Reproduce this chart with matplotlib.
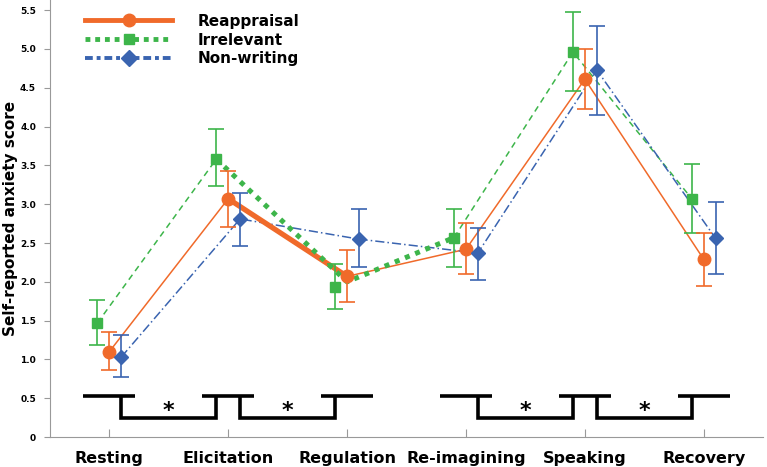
import matplotlib.pyplot as plt
from matplotlib.lines import Line2D
import numpy as np

phases = ["Resting", "Elicitation", "Regulation", "Re-imagining", "Speaking", "Recovery"]

reapp_mean = [1.10, 3.07, 2.07, 2.42, 4.61, 2.29]
reapp_lo = [0.86, 2.71, 1.74, 2.10, 4.23, 1.95]
reapp_hi = [1.36, 3.43, 2.41, 2.76, 5.00, 2.63]

irrel_mean = [1.47, 3.58, 1.93, 2.57, 4.96, 3.07]
irrel_lo = [1.19, 3.23, 1.65, 2.19, 4.46, 2.63]
irrel_hi = [1.76, 3.97, 2.23, 2.94, 5.48, 3.52]

nonw_mean = [1.03, 2.81, 2.55, 2.37, 4.73, 2.56]
nonw_lo = [0.77, 2.46, 2.19, 2.02, 4.15, 2.10]
nonw_hi = [1.31, 3.15, 2.94, 2.69, 5.30, 3.03]

# highlighted (thick) segments drawn over the plain lines
thick_reapp_x = [1, 2]
thick_reapp_y = [3.07, 2.07]
thick_irrel_x = [0.9, 2, 2.9]
thick_irrel_y = [3.58, 2.0, 2.57]

# significant pairwise comparisons (phase index pairs)
comparisons = [(0, 1), (1, 2), (3, 4), (4, 5)]
yticks = [0, 0.5, 1.0, 1.5, 2.0, 2.5, 3.0, 3.5, 4.0, 4.5, 5.0, 5.5]

ORANGE = "#F06A2A"
GREEN = "#3DB54A"
BLUE = "#3A64B0"

fig = plt.figure(figsize=(7.67, 4.67), dpi=100)
ax = fig.add_axes([0.065, 0.064, 0.93, 0.936])

x = np.arange(len(phases))
off = 0.1


def draw(xs, mean, lo, hi, color, ls, marker, ms, segs):
    mean = np.array(mean)
    yerr = [mean - np.array(lo), np.array(hi) - mean]
    ax.errorbar(xs, mean, yerr=yerr, fmt="none", ecolor=color, elinewidth=1.2,
                capsize=6, capthick=1.2, zorder=3)
    for a, b in segs:
        ax.plot(xs[a:b + 1], mean[a:b + 1], color=color, ls=ls, lw=1.1, zorder=2)
    ax.plot(xs, mean, ls="none", marker=marker, color=color, ms=ms, zorder=4)


draw(x - off, irrel_mean, irrel_lo, irrel_hi, GREEN, (0, (4, 3)), "s", 7,
     [(0, 1), (3, 5)])
draw(x, reapp_mean, reapp_lo, reapp_hi, ORANGE, "-", "o", 9,
     [(0, 1), (2, 5)])
draw(x + off, nonw_mean, nonw_lo, nonw_hi, BLUE, (0, (6, 2, 1, 2)), "D", 7.5,
     [(0, 5)])

ax.plot(thick_reapp_x, thick_reapp_y, color=ORANGE, lw=3.8, solid_capstyle="butt", zorder=2)
ax.plot(thick_irrel_x, thick_irrel_y, color=GREEN, lw=3.6, ls=(0, (1, 1.2)), zorder=2)

# significance brackets
top, bot, hw = 0.53, 0.24, 0.22
for i in sorted({p for c in comparisons for p in c}):
    ax.plot([i - hw, i + hw], [top, top], color="black", lw=2.6, solid_capstyle="butt")
for a, b in comparisons:
    ax.plot([a + 0.1, a + 0.1, b - 0.1, b - 0.1], [top, bot, bot, top], color="black",
            lw=2.6, solid_joinstyle="miter", solid_capstyle="butt")
    ax.text((a + b) / 2, 0.34, "*", ha="center", va="center", fontsize=16,
            fontweight="bold")

ax.set_xlim(-0.5, 5.5)
ax.set_ylim(0, 5.63)
ax.set_xticks(x)
ax.set_xticklabels(phases, fontsize=11.5, fontweight="bold")
ax.set_yticks(yticks)
ax.set_yticklabels(["0"] + ["%.1f" % v for v in yticks[1:]], fontsize=6.5, fontweight="bold")
ax.tick_params(axis="x", direction="in", length=6, color="#999999", pad=10)
ax.tick_params(axis="y", direction="out", length=4, color="#999999", pad=6)
for s in ["top", "right"]:
    ax.spines[s].set_visible(False)
for s in ["left", "bottom"]:
    ax.spines[s].set_color("#999999")
ax.set_ylabel("Self-reported anxiety score", fontsize=11, fontweight="bold")
ax.yaxis.set_label_coords(-0.045, 0.5)

handles = [
    Line2D([], [], color=ORANGE, lw=3.5, marker="o", ms=9),
    Line2D([], [], color=GREEN, lw=3.5, ls=(0, (1, 1)), marker="s", ms=7),
    Line2D([], [], color=BLUE, lw=2.8, ls=(0, (2, 1, 1, 1)), marker="D", ms=8),
]
leg = ax.legend(handles, ["Reappraisal", "Irrelevant", "Non-writing"], loc="upper left",
                bbox_to_anchor=(0.03, 1.0), frameon=False, handlelength=5.7,
                handletextpad=1.7, labelspacing=0.25, numpoints=1,
                prop={"size": 11, "weight": "bold"})

fig.savefig("out.png", dpi=100)
